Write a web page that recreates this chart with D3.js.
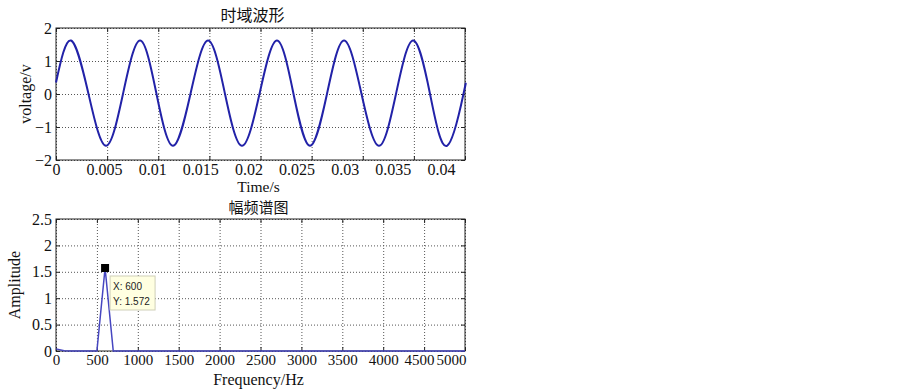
<!DOCTYPE html>
<html>
<head>
<meta charset="utf-8">
<script src="https://cdn.jsdelivr.net/npm/d3@7"></script>
<style>
    body { margin: 0; background: #fff; }
    .grid .domain { display: none; }
    .grid line { stroke: #555; stroke-dasharray: 1, 2; }
    .ticks .domain { display: none; }
    .ticks line { stroke: #222; }
</style>
</head>
<body>
<div id="chart"></div>
<script>
// time-domain waveform: start, then peak / zero / trough / zero of each cycle
const waveTime = [0,
    0.00147, 0.00318, 0.00489, 0.00655,
    0.00822, 0.00983, 0.01144, 0.01315,
    0.01487, 0.01653, 0.01819, 0.0199,
    0.02161, 0.02323, 0.02484, 0.0265,
    0.02817, 0.02988, 0.03159, 0.03325,
    0.03492, 0.03658, 0.03824, 0.03985,
    0.04];
const waveVolt = [0.35,
    1.62, 0, -1.57, 0,
    1.62, 0, -1.57, 0,
    1.62, 0, -1.57, 0,
    1.62, 0, -1.57, 0,
    1.62, 0, -1.57, 0,
    1.62, 0, -1.57, 0,
    0.2];

// amplitude spectrum
const specFreq = [0, 100, 200, 500, 600, 700, 5000];
const specAmp = [0.04, 0.005, 0, 0, 1.572, 0, 0];

// data tip
const tipFreq = 600;
const tipAmp = 1.572;

// ticks
const timeTicks = [0, 0.005, 0.01, 0.015, 0.02, 0.025, 0.03, 0.035, 0.04];
const voltTicks = [-2, -1, 0, 1, 2];
const freqTicks = [0, 500, 1000, 1500, 2000, 2500, 3000, 3500, 4000, 4500, 5000];
const ampTicks = [0, 0.5, 1, 1.5, 2, 2.5];

const serif = "'Liberation Serif', 'Times New Roman', serif";
const cjk = "'Noto Sans CJK SC', sans-serif";

const svg = d3.select("#chart").append("svg")
    .attr("width", 903)
    .attr("height", 391);

function minus(d) {
    return d < 0 ? "\u2212" + Math.abs(d) : String(d);
}

function drawPanel(opt) {
    let p = {};
    p.width = 409;
    p.height = 132;

    p.g = svg.append("g")
        .attr("transform", "translate(" + opt.left + "," + opt.top + ")");

    p.x = d3.scaleLinear().domain(opt.xDomain).range([0, p.width]);
    p.y = d3.scaleLinear().domain(opt.yDomain).range([p.height, 0]);
    // labels of the time axis sit on a slightly wider spacing than the grid in the original
    p.xLab = d3.scaleLinear().domain(opt.xLabDomain || opt.xDomain).range([0, p.width]);

    // dotted grid
    p.g.append("g")
        .attr("class", "grid")
        .attr("transform", "translate(0," + p.height + ")")
        .call(d3.axisBottom(p.x).tickValues(opt.xTicks).tickSize(-p.height).tickFormat(""));
    p.g.append("g")
        .attr("class", "grid")
        .call(d3.axisLeft(p.y).tickValues(opt.yTicks).tickSize(-p.width).tickFormat(""));

    // inward tick marks on all sides
    p.g.append("g").attr("class", "ticks")
        .attr("transform", "translate(0," + p.height + ")")
        .call(d3.axisBottom(p.x).tickValues(opt.xTicks).tickSizeInner(-4).tickSizeOuter(0).tickFormat(""));
    p.g.append("g").attr("class", "ticks")
        .call(d3.axisTop(p.x).tickValues(opt.xTicks).tickSizeInner(-4).tickSizeOuter(0).tickFormat(""));
    p.g.append("g").attr("class", "ticks")
        .call(d3.axisLeft(p.y).tickValues(opt.yTicks).tickSizeInner(-4).tickSizeOuter(0).tickFormat(""));
    p.g.append("g").attr("class", "ticks")
        .attr("transform", "translate(" + p.width + ",0)")
        .call(d3.axisRight(p.y).tickValues(opt.yTicks).tickSizeInner(-4).tickSizeOuter(0).tickFormat(""));

    // tick labels
    let xl = p.g.append("g").attr("class", "ticks")
        .attr("transform", "translate(0," + p.height + ")")
        .call(d3.axisBottom(p.xLab).tickValues(opt.xTicks).tickSize(0).tickPadding(3.5).tickFormat(opt.xFormat));
    xl.selectAll("text").attr("font-family", serif).attr("font-size", opt.xFontSize).attr("fill", "#111");
    if (opt.lastEnd) {
        // squeeze the last two labels inside the frame, as in the original
        let n = opt.xTicks.length;
        xl.selectAll(".tick text")
            .filter((d, i) => i === n - 1)
            .attr("text-anchor", "end").attr("dx", 1);
        xl.selectAll(".tick text")
            .filter((d, i) => i === n - 2)
            .attr("dx", -5);
    }

    let yl = p.g.append("g").attr("class", "ticks")
        .call(d3.axisLeft(p.y).tickValues(opt.yTicks).tickSize(0).tickPadding(4).tickFormat(minus));
    yl.selectAll("text").attr("font-family", serif).attr("font-size", 16).attr("fill", "#111");

    // frame
    p.frame = p.g.append("rect")
        .attr("width", p.width)
        .attr("height", p.height)
        .attr("fill", "none")
        .attr("stroke", "#222");

    // titles
    p.g.append("text")
        .attr("x", p.width / 2 + opt.titleDx)
        .attr("y", opt.titleDy)
        .attr("text-anchor", "middle")
        .attr("font-family", cjk)
        .attr("font-size", opt.titleSize)
        .attr("fill", "#111")
        .text(opt.title);

    p.g.append("text")
        .attr("x", p.width / 2 - 2)
        .attr("y", p.height + opt.xTitleDy)
        .attr("text-anchor", "middle")
        .attr("font-family", serif)
        .attr("font-size", opt.xTitleSize)
        .attr("fill", "#111")
        .text(opt.xTitle);

    p.g.append("text")
        .attr("transform", "translate(" + opt.yTitleX + "," + (p.height / 2) + ") rotate(-90)")
        .attr("text-anchor", "middle")
        .attr("font-family", serif)
        .attr("font-size", 16)
        .attr("fill", "#111")
        .text(opt.yTitle);

    return p;
}

// ---- upper panel: time-domain waveform
const wavePanel = drawPanel({
    left: 56, top: 28,
    xDomain: [0, 0.04], xLabDomain: [0, 0.0425], yDomain: [-2, 2],
    xTicks: timeTicks, yTicks: voltTicks,
    xFormat: d => String(+d.toFixed(3)), xFontSize: 16,
    title: "时域波形", titleDx: -8, titleDy: -7, titleSize: 16,
    xTitle: "Time/s", xTitleDy: 32, xTitleSize: 15.5,
    yTitle: "voltage/v", yTitleX: -25
});

wavePanel.g.append("path")
    .datum(waveTime.map((t, i) => [t, waveVolt[i]]))
    .attr("fill", "none")
    .attr("stroke", "#2222a8")
    .attr("stroke-width", 2)
    .attr("d", d3.line()
        .x(d => wavePanel.x(d[0]))
        .y(d => wavePanel.y(d[1]))
        .curve(d3.curveNatural));

// ---- lower panel: amplitude spectrum
const specPanel = drawPanel({
    left: 56, top: 219,
    xDomain: [0, 5000], yDomain: [0, 2.5],
    xTicks: freqTicks, yTicks: ampTicks,
    xFormat: d => String(d), xFontSize: 15, lastEnd: true,
    title: "幅频谱图", titleDx: -2, titleDy: -6, titleSize: 15,
    xTitle: "Frequency/Hz", xTitleDy: 34, xTitleSize: 16,
    yTitle: "Amplitude", yTitleX: -36
});

specPanel.g.append("path")
    .datum(specFreq.map((f, i) => [f, specAmp[i]]))
    .attr("fill", "none")
    .attr("stroke", "#4646c0")
    .attr("stroke-width", 1.5)
    .attr("d", d3.line()
        .x(d => specPanel.x(d[0]))
        .y(d => specPanel.y(d[1])));

// data tip marker and box
let tx = specPanel.x(tipFreq), ty = specPanel.y(tipAmp);
specPanel.g.append("rect")
    .attr("x", tx - 4).attr("y", ty - 4)
    .attr("width", 8).attr("height", 8)
    .attr("fill", "#000");

specPanel.g.append("rect")
    .attr("x", tx + 5).attr("y", ty + 8)
    .attr("width", 45).attr("height", 34)
    .attr("fill", "#ffffe1")
    .attr("stroke", "#cfcfb8");

specPanel.g.selectAll(".tip")
    .data(["X: " + tipFreq, "Y: " + tipAmp])
    .join("text")
    .attr("class", "tip")
    .attr("x", tx + 8)
    .attr("y", (d, i) => ty + 22.5 + i * 15)
    .attr("font-family", "'Liberation Sans', Arial, sans-serif")
    .attr("font-size", 10)
    .attr("fill", "#222")
    .text(d => d);
</script>
</body>
</html>
